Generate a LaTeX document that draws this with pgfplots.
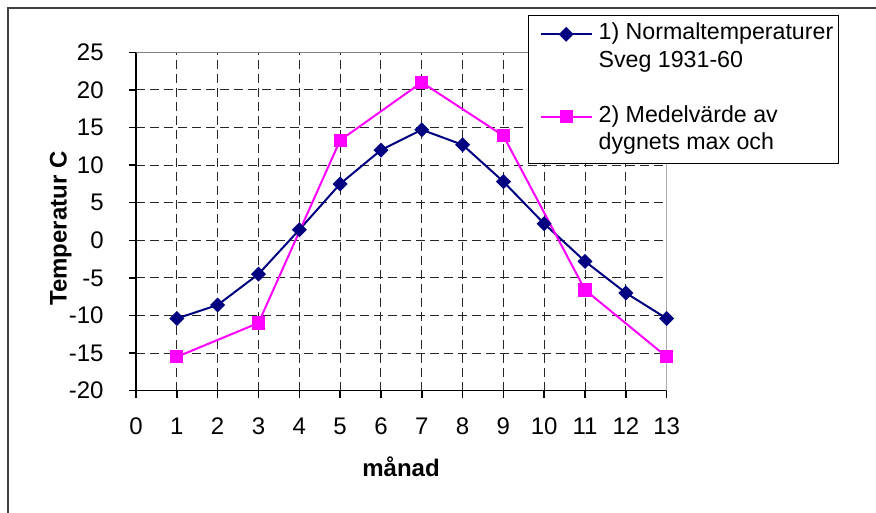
\documentclass[border=0pt]{standalone}
\usepackage{pgfplots}
\pgfplotsset{compat=1.18}
\usepackage{fontspec}
\setmainfont{Liberation Sans}
\definecolor{navyser}{RGB}{0,0,128}
\definecolor{magser}{RGB}{255,0,255}

% monthly values
\pgfplotstableread{
x   y
1  -10.4
2   -8.6
3   -4.5
4    1.4
5    7.5
6   12.0
7   14.7
8   12.7
9    7.8
10   2.2
11  -2.8
12  -7.0
13 -10.4
}\normaltemp
\pgfplotstableread{
x   y
1  -15.5
3  -11.0
5   13.3
7   21.0
9   13.9
11  -6.6
13 -15.5
}\medelmax

\begin{document}
\begin{tikzpicture}
\useasboundingbox (0bp,0bp) rectangle (438bp,256.5bp);
\draw[black!75,line width=1bp] (4bp,0bp) -- (4bp,252.5bp) -- (438bp,252.5bp);
\begin{axis}[
    at={(68bp,61.15bp)}, anchor=south west,
    scale only axis, width=265.35bp, height=169.2bp,
    xmin=0, xmax=13, ymin=-20, ymax=25,
    xtick={0,...,13}, ytick={-20,-15,...,25},
    minor xtick={1,...,12}, minor ytick={-15,-10,...,20},
    grid=minor,
    minor grid style={black!85, line width=0.5bp, dash pattern=on 4.5bp off 2.5bp},
    minor tick length=0pt, major tick length=3.5bp,
    axis lines*=left,
    axis line style={black, line width=0.75bp, -},
    tick align=outside,
    major tick style={black, line width=0.75bp},
    /pgf/number format/assume math mode=true,
    ticklabel style={font=\fontsize{12bp}{14bp}\selectfont},
    xticklabel style={inner sep=0pt, anchor=north, yshift=-10bp},
    yticklabel style={inner sep=0pt, anchor=east, xshift=-12.5bp},
    xlabel={\textbf{månad}}, ylabel={\textbf{Temperatur C}},
    every axis x label/.style={at={(axis description cs:0.4994,-0.255)}, anchor=base, font=\fontsize{12bp}{14bp}\selectfont},
    every axis y label/.style={at={(axis description cs:-0.142,0.479)}, anchor=center, rotate=90, font=\fontsize{12bp}{14bp}\selectfont},
    legend cell align=left,
    legend image code/.code={%
        \path (-3bp,0bp);
        \draw[mark repeat=2,mark phase=2] plot coordinates {(0bp,0bp) (12.75bp,0bp) (25.5bp,0bp)};},
    legend style={at={(axis description cs:0.7387,1.1102)}, anchor=north west,
        draw=black, line width=0.6bp, fill=white,
        font=\fontsize{11.6bp}{13.75bp}\selectfont,
        inner xsep=2.5bp, inner ysep=2.5bp, row sep=0pt, column sep=3bp,
        nodes={inner xsep=0pt, inner ysep=0pt, text height=9.5bp, text depth=4.25bp}},
]
\draw[black!50, line width=0.9bp] (rel axis cs:0,1) -- (rel axis cs:1,1) -- (rel axis cs:1,0);

\addplot[navyser, line width=1bp, mark=square*, mark size=2.15bp,
         mark options={rotate=45, fill=navyser, draw=navyser}] table[x=x,y=y] {\normaltemp};
\addlegendentry{1) Normaltemperaturer}
\addlegendimage{empty legend}
\addlegendentry{Sveg 1931-60}
\addlegendimage{empty legend}
\addlegendentry{}

\addplot[magser, line width=1bp, mark=square*, mark size=2.8bp,
         mark options={fill=magser, draw=magser}] table[x=x,y=y] {\medelmax};
\addlegendentry{2) Medelvärde av}
\addlegendimage{empty legend}
\addlegendentry{dygnets max och}
\end{axis}
\end{tikzpicture}
\end{document}
